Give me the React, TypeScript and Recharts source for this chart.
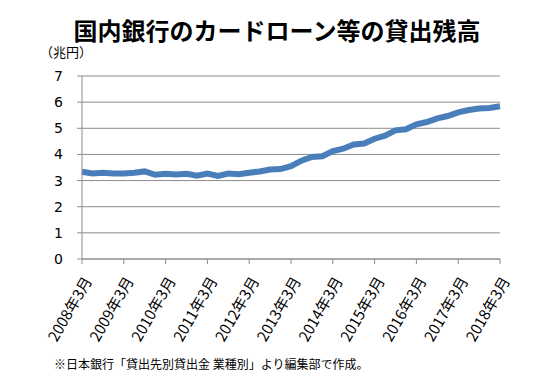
import { LineChart, Line, XAxis, YAxis, CartesianGrid } from "recharts";

const years = [2008, 2009, 2010, 2011, 2012, 2013, 2014, 2015, 2016, 2017, 2018];
const months = [3, 6, 9, 12];

// quarterly labels 2008年3月 .. 2018年3月
const periods: string[] = [];
years.forEach((y) => {
  months.forEach((m) => {
    if (y === 2018 && m > 3) return;
    periods.push(`${y}年${m}月`);
  });
});

// 残高 (兆円)
const balance = [
  3.34, 3.27, 3.3, 3.27, 3.27, 3.3, 3.35, 3.22, 3.26, 3.23,
  3.26, 3.19, 3.27, 3.18, 3.27, 3.24, 3.3, 3.35, 3.42, 3.44,
  3.55, 3.76, 3.9, 3.93, 4.13, 4.22, 4.38, 4.42, 4.6, 4.72,
  4.92, 4.96, 5.15, 5.24, 5.38, 5.47, 5.61, 5.7, 5.76, 5.78,
  5.84,
];

const yTicks = [0, 1, 2, 3, 4, 5, 6, 7];

const data = periods.map((p, i) => ({ period: p, balance: balance[i] }));

const jp = '"Noto Sans CJK JP", "Noto Sans", sans-serif';

const XTick = (props: any) => {
  const { x, y, payload } = props;
  return (
    <g transform={`translate(${x + 6},${y + 12})`}>
      <text
        transform="rotate(-60)"
        textAnchor="end"
        dy="0.35em"
        fontSize={15}
        fontFamily={jp}
        fill="#000"
      >
        {payload.value}
      </text>
    </g>
  );
};

const App = () => {
  return (
    <div
      style={{
        position: "absolute",
        left: 0,
        top: 0,
        width: 554,
        height: 388,
        background: "#fff",
        fontFamily: jp,
      }}
    >
      <div
        style={{
          position: "absolute",
          left: 0,
          width: 554,
          top: 12,
          textAlign: "center",
          fontSize: 24,
          fontWeight: 700,
          lineHeight: "36px",
          color: "#000",
        }}
      >
        国内銀行のカードローン等の貸出残高
      </div>
      <div
        style={{
          position: "absolute",
          left: 40,
          top: 42,
          fontSize: 13,
          lineHeight: "20px",
          color: "#000",
        }}
      >
        （兆円）
      </div>
      <LineChart
        width={554}
        height={388}
        data={data}
        margin={{ top: 76, right: 54, bottom: 0, left: 0 }}
      >
        <CartesianGrid vertical={false} stroke="#8c8c8c" />
        <XAxis
          dataKey="period"
          interval={3}
          tick={<XTick />}
          tickSize={5}
          stroke="#8c8c8c"
          height={129}
        />
        <YAxis
          width={82}
          domain={[0, 7]}
          ticks={yTicks}
          tickSize={5}
          tickMargin={14}
          stroke="#8c8c8c"
          tick={{ fill: "#000", fontSize: 14, fontFamily: '"DejaVu Sans", sans-serif' }}
        />
        <Line
          type="linear"
          dataKey="balance"
          stroke="#4a7ebb"
          strokeWidth={6}
          dot={false}
          isAnimationActive={false}
        />
      </LineChart>
      <div
        style={{
          position: "absolute",
          left: 54,
          top: 354,
          fontSize: 12,
          lineHeight: "20px",
          color: "#000",
        }}
      >
        ※日本銀行「貸出先別貸出金 業種別」より編集部で作成。
      </div>
    </div>
  );
};

export default App;
